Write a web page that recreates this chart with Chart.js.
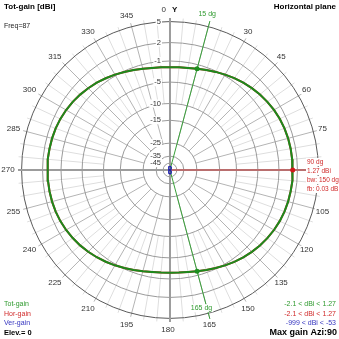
<!DOCTYPE html>
<html>
<head>
<meta charset="utf-8">
<script src="https://cdn.jsdelivr.net/npm/chart.js@4.4.0/dist/chart.umd.min.js"></script>
<style>
  body { margin: 0; background: #fff; }
  #wrap { width: 339px; height: 339px; }
</style>
</head>
<body>
<div id="wrap"><canvas id="pattern"></canvas></div>
<script>
// azimuth in degrees, clockwise from Y
const azimuths = [
  0, 5, 10, 15, 20, 25, 30, 35, 40, 45, 50, 55, 60, 65, 70, 75, 80, 85,
  90, 95, 100, 105, 110, 115, 120, 125, 130, 135, 140, 145, 150, 155, 160, 165, 170, 175,
  180, 185, 190, 195, 200, 205, 210, 215, 220, 225, 230, 235, 240, 245, 250, 255, 260, 265,
  270, 275, 280, 285, 290, 295, 300, 305, 310, 315, 320, 325, 330, 335, 340, 345, 350, 355
];
const totGain = [
  -2.10, -2.06, -1.95, -1.73, -1.45, -1.13, -0.80, -0.46, -0.14, 0.15, 0.42, 0.65, 0.85, 1.01, 1.13, 1.20, 1.24, 1.26,
  1.27, 1.26, 1.24, 1.20, 1.13, 1.01, 0.85, 0.65, 0.42, 0.15, -0.14, -0.46, -0.80, -1.13, -1.45, -1.73, -1.95, -2.06,
  -2.10, -2.06, -1.96, -1.74, -1.46, -1.14, -0.81, -0.48, -0.16, 0.13, 0.40, 0.63, 0.83, 0.99, 1.10, 1.17, 1.21, 1.23,
  1.24, 1.23, 1.21, 1.17, 1.10, 0.99, 0.83, 0.63, 0.40, 0.13, -0.16, -0.48, -0.81, -1.14, -1.46, -1.74, -1.96, -2.06
];
const horGain = [
  -2.10, -2.06, -1.95, -1.73, -1.45, -1.13, -0.80, -0.46, -0.14, 0.15, 0.42, 0.65, 0.85, 1.01, 1.13, 1.20, 1.24, 1.26,
  1.27, 1.26, 1.24, 1.20, 1.13, 1.01, 0.85, 0.65, 0.42, 0.15, -0.14, -0.46, -0.80, -1.13, -1.45, -1.73, -1.95, -2.06,
  -2.10, -2.06, -1.96, -1.74, -1.46, -1.14, -0.81, -0.48, -0.16, 0.13, 0.40, 0.63, 0.83, 0.99, 1.10, 1.17, 1.21, 1.23,
  1.24, 1.23, 1.21, 1.17, 1.10, 0.99, 0.83, 0.63, 0.40, 0.13, -0.16, -0.48, -0.81, -1.14, -1.46, -1.74, -1.96, -2.06
];
const verGain = [
  -53, -53.1, -53.4, -54, -54.8, -55.8, -57, -58.4, -60, -62, -64.3, -67, -70, -74, -79, -85, -93, -106,
  -999, -106, -93, -85, -79, -74, -70, -67, -64.3, -62, -60, -58.4, -57, -55.8, -54.8, -54, -53.4, -53.1,
  -53, -53.1, -53.4, -54, -54.8, -55.8, -57, -58.4, -60, -62, -64.3, -67, -70, -74, -79, -85, -93, -106,
  -999, -106, -93, -85, -79, -74, -70, -67, -64.3, -62, -60, -58.4, -57, -55.8, -54.8, -54, -53.4, -53.1
];
const gainRings = [5, 2, -1, -5, -10, -15, -25, -35, -45];
const aziLabels = [0, 30, 45, 60, 75, 105, 120, 135, 150, 165, 180, 195, 210, 225, 240, 255, 270, 285, 300, 315, 330, 345];
const beamEdges = [15, 165];
const maxAzi = 90;

const OUTER = 152;

// ARRL-style log radius: 5 dBi on the outer ring
function ringRadius(db) {
  let d = Math.max(0, 5 - db);
  return OUTER * Math.exp(-(0.0501 * d + 0.000229 * d * d));
}
function polar(az, r) {
  let a = az * Math.PI / 180;
  return { x: r * Math.sin(a), y: r * Math.cos(a) };
}
function trace(values) {
  let pts = azimuths.map((az, i) => polar(az, ringRadius(values[i])));
  pts.push(pts[0]);
  return pts;
}
function gainAt(values, az) {
  return values[azimuths.indexOf(az)];
}

// text on a white box, like the plot labels of the NEC viewer
function drawText(ctx, text, x, y, align, color, font) {
  ctx.font = font;
  ctx.textAlign = align;
  ctx.textBaseline = "middle";
  let w = ctx.measureText(text).width;
  let left = align === "right" ? x - w : align === "center" ? x - w / 2 : x;
  ctx.fillStyle = "#fff";
  ctx.fillRect(left - 1, y - 4, w + 2, 8);
  ctx.fillStyle = color;
  ctx.fillText(text, x, y);
}

const polarGrid = {
  id: "polarGrid",
  beforeDatasetsDraw(chart) {
    const ctx = chart.ctx;
    const sx = chart.scales.x, sy = chart.scales.y;
    const cx = sx.getPixelForValue(0), cy = sy.getPixelForValue(0);
    const rad = (db) => sx.getPixelForValue(ringRadius(db)) - cx;
    ctx.save();
    ctx.lineWidth = 1;
    // spokes: every 5 dg light, every 15 dg darker
    for (let az = 0; az < 360; az += 5) {
      let a = az * Math.PI / 180;
      let major = az % 15 === 0;
      let r0 = major ? rad(-25) : rad(-10);
      ctx.strokeStyle = major ? "#b4b4b4" : "#dedede";
      ctx.beginPath();
      ctx.moveTo(cx + r0 * Math.sin(a), cy - r0 * Math.cos(a));
      ctx.lineTo(cx + OUTER * Math.sin(a), cy - OUTER * Math.cos(a));
      ctx.stroke();
    }
    gainRings.forEach((g, i) => {
      ctx.strokeStyle = i === 0 ? "#5a5a5a" : "#9a9a9a";
      ctx.beginPath();
      ctx.arc(cx, cy, rad(g), 0, Math.PI * 2);
      ctx.stroke();
    });
    // main axes
    ctx.strokeStyle = "#9c9c9c";
    ctx.lineWidth = 2;
    ctx.beginPath();
    ctx.moveTo(cx, cy - OUTER);
    ctx.lineTo(cx, cy + OUTER);
    ctx.moveTo(cx - OUTER, cy);
    ctx.lineTo(cx + OUTER, cy);
    ctx.stroke();
    ctx.restore();
  },
  afterDraw(chart) {
    const ctx = chart.ctx;
    const sx = chart.scales.x, sy = chart.scales.y;
    const cx = sx.getPixelForValue(0), cy = sy.getPixelForValue(0);
    const rad = (db) => sx.getPixelForValue(ringRadius(db)) - cx;
    const font = (px, bold) => (bold ? "bold " : "") + px + "px 'Liberation Sans', Arial, sans-serif";
    ctx.save();

    gainRings.forEach((g) => {
      drawText(ctx, String(g), cx - 9, cy - rad(g), "right", "#333", font(7.5));
    });

    aziLabels.forEach((az) => {
      let a = az * Math.PI / 180;
      let x = cx + 160 * Math.sin(a) - 2, y = cy - 160 * Math.cos(a);
      if (az === 0) {
        drawText(ctx, "0", cx - 4, y, "right", "#333", font(8));
        drawText(ctx, "Y", cx + 2, y, "left", "#111", font(8, true));
      } else {
        drawText(ctx, String(az), x, y, "center", "#333", font(8));
      }
    });

    // beam edge labels
    beamEdges.forEach((az) => {
      let a = az * Math.PI / 180;
      let r = az < 90 ? 163 : 141;
      drawText(ctx, az + " dg", cx + r * Math.sin(a) - 5, cy - r * Math.cos(a) + 2, "center", "#2f9a2f", font(7));
    });

    // max gain annotation
    let gMax = gainAt(totGain, maxAzi);
    let fb = gMax - gainAt(totGain, (maxAzi + 180) % 360);
    let red = "#d02a2a";
    drawText(ctx, maxAzi + " dg", 307, 162, "left", red, font(6.5));
    drawText(ctx, gMax.toFixed(2) + " dBi", 307, 171, "left", red, font(6.5));
    drawText(ctx, "bw: " + (beamEdges[1] - beamEdges[0]) + " dg", 307, 180, "left", red, font(6.5));
    drawText(ctx, "fb: " + fb.toFixed(2) + " dB", 307, 189, "left", red, font(6.5));

    // headers
    drawText(ctx, "Tot-gain [dBi]", 4, 7, "left", "#000", font(8, true));
    drawText(ctx, "Freq=87", 4, 26, "left", "#222", font(7));
    drawText(ctx, "Horizontal plane", 336, 7, "right", "#000", font(8, true));

    // legend with min/max of each trace
    const tMin = Math.min(...totGain), tMax = Math.max(...totGain);
    const hMin = Math.min(...horGain), hMax = Math.max(...horGain);
    const vMin = Math.min(...verGain), vMax = Math.max(...verGain);
    drawText(ctx, "Tot-gain", 4, 304, "left", "#2f9a2f", font(7));
    drawText(ctx, "Hor-gain", 4, 314, "left", red, font(7));
    drawText(ctx, "Ver-gain", 4, 323, "left", "#3535c0", font(7));
    drawText(ctx, "Elev.= 0", 4, 333, "left", "#000", font(7.5, true));
    drawText(ctx, tMin.toFixed(1) + " < dBi < " + tMax.toFixed(2), 336, 304, "right", "#2f9a2f", font(7));
    drawText(ctx, hMin.toFixed(1) + " < dBi < " + hMax.toFixed(2), 336, 314, "right", red, font(7));
    drawText(ctx, vMin + " < dBi < " + vMax, 336, 323, "right", "#3535c0", font(7));
    drawText(ctx, "Max gain Azi:" + maxAzi, 337, 333, "right", "#000", font(9, true));
    ctx.restore();
  }
};

const beamLines = beamEdges.map((az) => [polar(az, 0), polar(az, 158)]);
const beamDots = beamEdges.map((az) => polar(az, ringRadius(gainAt(totGain, az))));

new Chart(document.getElementById("pattern"), {
  type: "scatter",
  data: {
    datasets: [
      {
        label: "max",
        data: [polar(maxAzi, ringRadius(gainAt(totGain, maxAzi)))],
        pointRadius: 2.5,
        pointBackgroundColor: "#d01a1a",
        pointBorderWidth: 0,
        order: 0,
      },
      {
        label: "edges",
        data: beamDots,
        pointRadius: 2.5,
        pointBackgroundColor: "#1f8f1f",
        pointBorderWidth: 0,
        order: 0,
      },
      {
        label: "Tot-gain",
        data: trace(totGain),
        showLine: true,
        borderColor: "#1c8a1c",
        borderWidth: 2,
        pointRadius: 0,
        order: 1,
      },
      {
        label: "Ver-gain",
        data: trace(verGain),
        showLine: true,
        borderColor: "#2020b0",
        borderWidth: 1.2,
        pointRadius: 0,
        order: 2,
      },
      {
        label: "Hor-gain",
        data: trace(horGain),
        showLine: true,
        borderColor: "#d02a2a",
        borderWidth: 2,
        pointRadius: 0,
        order: 3,
      },
      {
        label: "max line",
        data: [polar(maxAzi, 0), polar(maxAzi, OUTER)],
        showLine: true,
        borderColor: "#d84040",
        borderWidth: 1,
        pointRadius: 0,
        order: 4,
      },
      {
        label: "edge 1",
        data: beamLines[0],
        showLine: true,
        borderColor: "#3aa03a",
        borderWidth: 1,
        pointRadius: 0,
        order: 4,
      },
      {
        label: "edge 2",
        data: beamLines[1],
        showLine: true,
        borderColor: "#3aa03a",
        borderWidth: 1,
        pointRadius: 0,
        order: 4,
      },
    ],
  },
  options: {
    responsive: true,
    maintainAspectRatio: false,
    animation: false,
    layout: { padding: 0 },
    scales: {
      x: { type: "linear", min: -170, max: 169, display: false },
      y: { type: "linear", min: -169, max: 170, display: false },
    },
    plugins: {
      legend: { display: false },
      tooltip: { enabled: false },
    },
  },
  plugins: [polarGrid],
});
</script>
</body>
</html>
